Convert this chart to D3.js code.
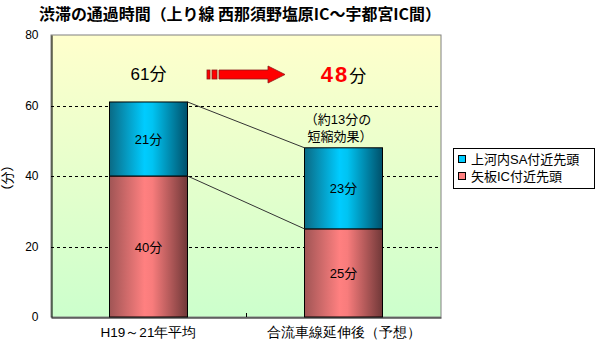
<!DOCTYPE html>
<html>
<head>
<meta charset="utf-8">
<script src="https://cdn.jsdelivr.net/npm/d3@7"></script>
<style>
  body { margin: 0; background: #fff; }
  svg { display: block; font-family: "Liberation Sans", "Noto Sans CJK JP", sans-serif; }
</style>
</head>
<body>
<div id="chart"></div>
<script>
// data
var categories = ['H19～21年平均', '合流車線延伸後（予想）']
var seriesNames = ['矢板IC付近先頭', '上河内SA付近先頭']
var yakitaVals = [40, 25]
var kawachiVals = [21, 23]
var totals = ['61分', '48']
var yTicks = [0, 20, 40, 60, 80]

var width = 600, height = 340
var plot = {left: 51, top: 35, right: 441, bottom: 317}

var svg = d3.select('#chart').append('svg').attr('width', width).attr('height', height)
var defs = svg.append('defs')

// background gradient
var bg = defs.append('linearGradient').attr('id', 'bg').attr('x1', 0).attr('y1', 0).attr('x2', 0).attr('y2', 1)
bg.append('stop').attr('offset', 0).attr('stop-color', '#ffffcc')
bg.append('stop').attr('offset', 1).attr('stop-color', '#ccffcc')

// cylinder-ish gradients for bars
function barGrad(id, stops) {
  var g = defs.append('linearGradient').attr('id', id).attr('x1', 0).attr('y1', 0).attr('x2', 1).attr('y2', 0)
  stops.forEach(s => g.append('stop').attr('offset', s[0]).attr('stop-color', s[1]))
}
barGrad('gBlue', [[0, '#0a6a85'], [0.45, '#00ccff'], [0.55, '#00c4f2'], [1, '#00506a']])
barGrad('gRed', [[0, '#a05555'], [0.45, '#ff8080'], [0.55, '#f87c7c'], [1, '#703838']])

var x = d3.scaleBand().domain(categories).range([plot.left, plot.right]).paddingInner(0).paddingOuter(0)
var y = d3.scaleLinear().domain([0, 80]).range([plot.bottom, plot.top])
var barW = x.bandwidth() * 0.4

// plot background + frame
svg.append('rect').attr('x', plot.left).attr('y', plot.top)
  .attr('width', plot.right - plot.left).attr('height', plot.bottom - plot.top)
  .attr('fill', 'url(#bg)').attr('stroke', '#808080').attr('stroke-width', 1)

// grid lines
svg.append('g').selectAll('line').data(yTicks.filter(d => d > 0 && d < 80)).enter()
  .append('line')
  .attr('x1', plot.left).attr('x2', plot.right)
  .attr('y1', d => Math.round(y(d)) + 0.5).attr('y2', d => Math.round(y(d)) + 0.5)
  .attr('stroke', '#000').attr('stroke-dasharray', '3,3')

// axes
var yAxis = svg.append('g').attr('transform', 'translate(' + (plot.left + 0.5) + ',0)')
  .call(d3.axisLeft(y).tickValues(yTicks).tickSize(0).tickPadding(13))
yAxis.select('.domain').attr('stroke', '#000')
yAxis.selectAll('text').attr('font-size', 12).attr('fill', '#000')

var xAxis = svg.append('g').attr('transform', 'translate(0,' + (plot.bottom + 0.5) + ')')
  .call(d3.axisBottom(x).tickSize(0).tickPadding(10))
xAxis.select('.domain').attr('stroke', '#000')
xAxis.selectAll('text').attr('font-size', 13.5).attr('fill', '#000')
// middle tick between categories
svg.append('line').attr('x1', plot.left + x.step() + 0.5).attr('x2', plot.left + x.step() + 0.5)
  .attr('y1', plot.bottom - 4).attr('y2', plot.bottom).attr('stroke', '#000')

// stacked bars
var stacks = categories.map((c, i) => ({cat: c, a: yakitaVals[i], b: kawachiVals[i]}))
var bx = d => x(d.cat) + (x.bandwidth() - barW) / 2

var bars = svg.append('g')
bars.selectAll('.red').data(stacks).enter().append('rect')
  .attr('x', bx).attr('width', barW)
  .attr('y', d => y(d.a)).attr('height', d => y(0) - y(d.a))
  .attr('fill', 'url(#gRed)').attr('stroke', '#000').attr('stroke-width', 1)
bars.selectAll('.blue').data(stacks).enter().append('rect')
  .attr('x', bx).attr('width', barW)
  .attr('y', d => y(d.a + d.b)).attr('height', d => y(d.a) - y(d.a + d.b))
  .attr('fill', 'url(#gBlue)').attr('stroke', '#000').attr('stroke-width', 1)

// series lines between bars
var s0 = stacks[0], s1 = stacks[1]
;[[s0.a + s0.b, s1.a + s1.b], [s0.a, s1.a]].forEach(p => {
  svg.append('line')
    .attr('x1', bx(s0) + barW).attr('y1', y(p[0]))
    .attr('x2', bx(s1)).attr('y2', y(p[1]))
    .attr('stroke', '#333').attr('stroke-width', 1)
})

// value labels inside bars
stacks.forEach(d => {
  var cx = bx(d) + barW / 2
  svg.append('text').attr('x', cx).attr('y', y(d.a / 2) + 5).attr('text-anchor', 'middle')
    .attr('font-size', 13).text(d.a + '分')
  svg.append('text').attr('x', cx).attr('y', y(d.a + d.b / 2) + 5).attr('text-anchor', 'middle')
    .attr('font-size', 13).text(d.b + '分')
})

// title
svg.append('text').attr('x', 39).attr('y', 20).attr('font-size', 15.5).attr('font-weight', 'bold')
  .attr('font-family', '"Noto Sans CJK JP", sans-serif')
  .attr('textLength', 402).attr('lengthAdjust', 'spacingAndGlyphs')
  .text('渋滞の通過時間（上り線 西那須野塩原IC～宇都宮IC間）')

// y axis title
svg.append('text').attr('transform', 'translate(12,178) rotate(-90)').attr('text-anchor', 'middle')
  .attr('font-size', 13).text('（分）')

// totals and arrow
svg.append('text').attr('x', bx(s0) + barW / 2).attr('y', 80).attr('text-anchor', 'middle')
  .attr('font-size', 17).text(totals[0])
var t2 = svg.append('text').attr('x', bx(s1) + barW / 2).attr('y', 82).attr('text-anchor', 'middle')
t2.append('tspan').attr('font-size', 22).attr('font-weight', 'bold').attr('fill', '#ff0000').attr('letter-spacing', 2).text(totals[1])
t2.append('tspan').attr('font-size', 17).text('分')

var ar = svg.append('g').attr('fill', '#ff0000').attr('stroke', '#8b1a1a').attr('stroke-width', 0.8)
ar.append('rect').attr('x', 207).attr('y', 70).attr('width', 3).attr('height', 9)
ar.append('rect').attr('x', 212).attr('y', 70).attr('width', 5).attr('height', 9)
ar.append('path').attr('d', 'M219,70 L268,70 L268,66 L285,74.5 L268,83 L268,79 L219,79 Z')

svg.append('text').attr('x', 338).attr('y', 124).attr('text-anchor', 'middle').attr('font-size', 13).text('（約13分の')
svg.append('text').attr('x', 340).attr('y', 141).attr('text-anchor', 'middle').attr('font-size', 13).text('短縮効果）')

// legend
var lg = svg.append('g').attr('transform', 'translate(453,148)')
lg.append('rect').attr('x', 0.5).attr('y', 0.5).attr('width', 141).attr('height', 40).attr('fill', '#fff').attr('stroke', '#000')
var legendItems = [{name: seriesNames[1], fill: '#00ccff'}, {name: seriesNames[0], fill: '#ff8080'}]
legendItems.forEach((d, i) => {
  lg.append('rect').attr('x', 5.5).attr('y', 7.5 + i * 17).attr('width', 7).attr('height', 7)
    .attr('fill', d.fill).attr('stroke', '#000')
  lg.append('text').attr('x', 18).attr('y', 16 + i * 17).attr('font-size', 13).text(d.name)
})
</script>
</body>
</html>
